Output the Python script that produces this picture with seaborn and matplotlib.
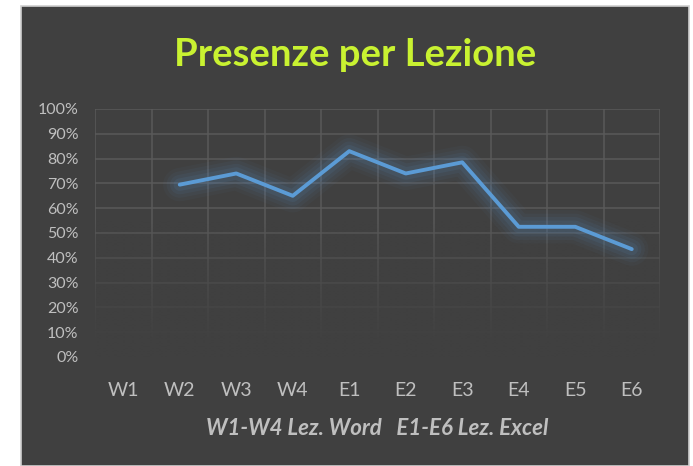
import numpy as np
import pandas as pd
import matplotlib.pyplot as plt
from matplotlib.patches import Rectangle
from matplotlib.ticker import MultipleLocator, PercentFormatter
import seaborn as sns

# dati
lezioni = ["W1", "W2", "W3", "W4", "E1", "E2", "E3", "E4", "E5", "E6"]
presenze = [np.nan, 0.695, 0.74, 0.65, 0.83, 0.74, 0.785, 0.525, 0.525, 0.435]

BG = "#404040"
GRID = "#5a5a5a"
TXT = "#bfbfbf"
BLUE = "#5b9bd5"

sns.set_theme(style="dark")
plt.rcParams["font.family"] = ["Lato", "DejaVu Sans"]

df = pd.DataFrame({"pos": np.arange(len(lezioni)), "presenze": presenze})

fig = plt.figure(figsize=(6.93, 4.66), dpi=100, facecolor="white")
# riquadro scuro del grafico
fig.patches.append(Rectangle((21 / 693, 0), 668 / 693, 460 / 466, transform=fig.transFigure,
                             facecolor=BG, edgecolor="#d0d0d0", linewidth=1.2, zorder=-5))

ax = fig.add_axes([95 / 693, 109 / 466, 565 / 693, 248 / 466])
ax.set_zorder(2)
ax.set_facecolor("none")

# alone (glow) attorno alla linea
for lw, a in [(24, 0.04), (19, 0.05), (14, 0.07), (9, 0.09)]:
    sns.lineplot(data=df, x="pos", y="presenze", ax=ax, color=BLUE, linewidth=lw,
                 alpha=a, solid_capstyle="round", solid_joinstyle="round", zorder=3)
sns.lineplot(data=df, x="pos", y="presenze", ax=ax, color=BLUE, linewidth=2.8,
             solid_capstyle="round", solid_joinstyle="round", zorder=4)

ax.set_xlim(-0.5, len(lezioni) - 0.5)
ax.set_ylim(0, 1)
ax.yaxis.set_major_locator(MultipleLocator(0.1))
ax.yaxis.set_major_formatter(PercentFormatter(1.0, decimals=0))
ax.set_xticks(np.arange(len(lezioni)))
ax.set_xticklabels(lezioni)
ax.set_xticks(np.arange(-0.5, len(lezioni)), minor=True)

ax.grid(False)
ax.grid(axis="y", which="major", color=GRID, linewidth=1.1, zorder=1)
ax.grid(axis="x", which="minor", color=GRID, linewidth=1.1, zorder=1)
for s in ax.spines.values():
    s.set_visible(False)

ax.tick_params(axis="both", which="both", length=0)
ax.tick_params(axis="y", labelsize=11.5, labelcolor=TXT, pad=12)
ax.tick_params(axis="x", labelsize=14, labelcolor=TXT, pad=18)

# sfumatura della griglia verso il basso
yy = np.linspace(1, 0, 200)[:, None]
alpha = np.clip((0.55 - yy) / 0.5, 0, 1) ** 0.8
grad = np.zeros((200, 1, 4))
grad[..., :3] = np.array([0x40, 0x40, 0x40]) / 255
grad[..., 3] = alpha
ax.imshow(grad, extent=[-0.5, len(lezioni) - 0.5, 0, 1], aspect="auto", zorder=2,
          interpolation="bilinear")

ax.set_xlabel("W1-W4 Lez. Word   E1-E6 Lez. Excel", fontsize=16, color=TXT,
              fontweight="bold", fontstyle="italic", labelpad=14)
ax.set_ylabel("")

fig.text(355 / 693, 1 - 66 / 466, "Presenze per Lezione", ha="center", va="baseline",
         fontsize=27.5, fontweight="bold", color="#c9f231")

fig.savefig("out.png", dpi=100, facecolor="white")
